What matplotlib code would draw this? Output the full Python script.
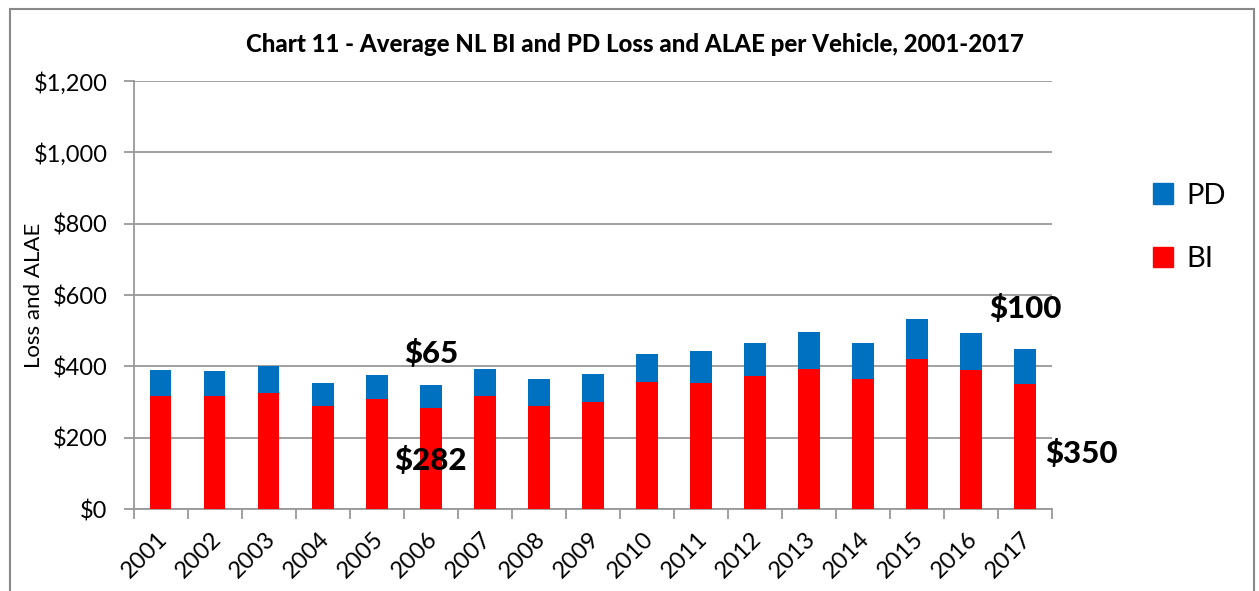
import matplotlib
matplotlib.use("Agg")
import matplotlib.pyplot as plt
from matplotlib.patches import Rectangle, Patch
from matplotlib.ticker import FuncFormatter
from matplotlib.transforms import ScaledTranslation
import numpy as np

plt.rcParams['font.family'] = ['Lato', 'DejaVu Sans']

# ---- data ----
years = [str(y) for y in range(2001, 2018)]
bi = [316, 316, 326, 290, 308, 282, 318, 290, 301, 356, 353, 374, 392, 364, 422, 389, 350]
pd_ = [73, 71, 75, 62, 68, 65, 75, 74, 78, 79, 89, 91, 105, 101, 110, 104, 100]

blue = "#0070C0"
red = "#FF0000"
grey = "#999999"

fig = plt.figure(figsize=(12.59, 5.91), dpi=100)
ax = fig.add_axes([0.1064, 0.1387, 0.7292, 0.7242])

x = np.arange(len(years))
width = 0.39
ax.bar(x, bi, width, color=red, label="BI", zorder=3)
ax.bar(x, pd_, width, bottom=bi, color=blue, label="PD", zorder=3)

ax.set_xlim(-0.5, len(years) - 0.5)
ax.set_ylim(0, 1200)
ax.set_yticks(np.arange(0, 1201, 200))
ax.yaxis.set_major_formatter(FuncFormatter(lambda v, p: f"${v:,.0f}"))
ax.grid(axis="y", color=grey, linewidth=1.3, zorder=0)

# ticks between categories, labels centered under bars
ax.set_xticks(np.arange(-0.5, len(years)), minor=False)
ax.set_xticklabels([])
ax.set_xticks(x, minor=True)
ax.set_xticklabels(years, minor=True, rotation=45, ha="right", va="center",
                   rotation_mode="anchor", fontsize=17)
ax.tick_params(axis="x", which="minor", length=0, pad=19)
ax.tick_params(axis="x", which="major", length=7, color=grey, width=1.3)
ax.tick_params(axis="y", length=7, color=grey, width=1.3, labelsize=17, pad=12)
shift = ScaledTranslation(3 / 100, 0, fig.dpi_scale_trans)
for lbl in ax.get_xticklabels(minor=True):
    lbl.set_transform(lbl.get_transform() + shift)

for s in ["top", "right"]:
    ax.spines[s].set_visible(False)
for s in ["left", "bottom"]:
    ax.spines[s].set_color(grey)
    ax.spines[s].set_linewidth(1.3)

ax.set_ylabel("Loss and ALAE", fontsize=16)
ax.yaxis.set_label_coords(-0.098, 0.5)

fig.text(0.504, 0.924, "Chart 11 - Average NL BI and PD Loss and ALAE per Vehicle, 2001-2017",
         ha="center", va="center", fontsize=17.3, fontweight="black")

# value callouts
ax.text(5.0, 437, "$65", ha="center", va="center", fontsize=22.5, fontweight="black")
ax.text(5.0, 137, "$282", ha="center", va="center", fontsize=22.5, fontweight="black")
ax.text(16.0, 561, "$100", ha="center", va="center", fontsize=22.5, fontweight="black")
ax.text(17.04, 157, "$350", ha="center", va="center", fontsize=22.5, fontweight="black")

handles = [Patch(color=blue, label="PD"), Patch(color=red, label="BI")]
fig.legend(handles=handles, loc="center left", bbox_to_anchor=(0.895, 0.615),
           frameon=False, fontsize=21, labelspacing=1.3, handlelength=0.7,
           handleheight=0.7, handletextpad=0.45)

fig.patches.append(Rectangle((10 / 1259, -0.01), 1244 / 1259, (591 - 9) / 591 + 0.01,
                             transform=fig.transFigure, fill=False,
                             edgecolor="#888888", linewidth=1.5))

fig.savefig("out.png", dpi=100)
